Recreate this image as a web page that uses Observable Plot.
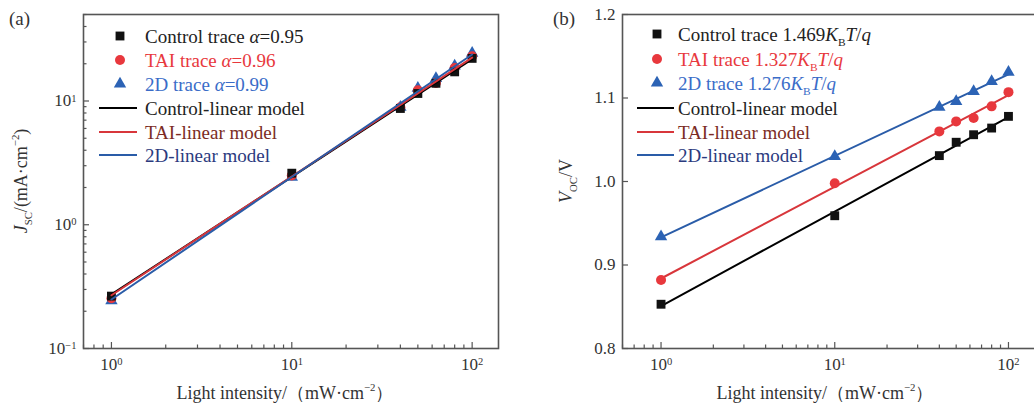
<!DOCTYPE html>
<html>
<head>
<meta charset="utf-8">
<script src="https://cdn.jsdelivr.net/npm/d3@7"></script>
<script src="https://cdn.jsdelivr.net/npm/@observablehq/plot@0.6"></script>
<style>
  html, body { margin: 0; padding: 0; background: #fff; overflow: hidden; }
  #wrap { position: relative; width: 1034px; height: 409px; overflow: hidden; }
  #wrap svg { position: absolute; top: 0; }
</style>
</head>
<body>
<div id="wrap"></div>
<script>
// Light intensities (mW·cm⁻²)
const intensity = [1, 10, 40, 50, 63, 80, 100];

// Short-circuit current density Jsc (mA·cm⁻²)
const jscControl = [0.265, 2.61, 8.7, 11.5, 13.9, 17.2, 22.1];
const jscTAI     = [0.255, 2.5, 8.9, 12.2, 14.0, 18.5, 23.0];
const jsc2D      = [0.243, 2.42, 8.9, 12.7, 15.2, 19.2, 24.4];
// Power-law exponents (Jsc ∝ I^α)
const alphas = [0.95, 0.96, 0.99];

// Open-circuit voltage Voc (V)
const vocControl = [0.853, 0.959, 1.031, 1.047, 1.056, 1.064, 1.078];
const vocTAI     = [0.882, 0.998, 1.060, 1.072, 1.076, 1.090, 1.107];
const voc2D      = [0.934, 1.030, 1.089, 1.096, 1.108, 1.120, 1.131];
// Ideality factors (n·kBT/q)
const idealityFactors = ["1.469", "1.327", "1.276"];

const seriesNames = ["Control", "TAI", "2D"];
const xMajorTicks = [1, 10, 100];
const jscMajorTicks = [0.1, 1, 10];
const vocTicks = [0.8, 0.9, 1.0, 1.1, 1.2];

const serif = "'Liberation Serif', 'Times New Roman', serif";
const frameColor = "#555";
const markerColors = ["#111111", "#e8383d", "#2c63b5"];
const lineColors = ["#000000", "#d8363b", "#2a5ca8"];
const traceTextColors = ["#222222", "#e8383d", "#3a6cc8"];
const modelTextColors = ["#222222", "#7b2b24", "#2b3a7e"];
const symbols = ["square", "circle", "triangle"];
const symbolTypes = {square: d3.symbolSquare, circle: d3.symbolCircle, triangle: d3.symbolTriangle};
const symbolR = [5, 5, 4.6];

const rows = (ys) => intensity.map((x, i) => ({x, y: ys[i]}));
const jscSeries = [jscControl, jscTAI, jsc2D];
const vocSeries = [vocControl, vocTAI, voc2D];
const xLo = d3.min(intensity), xHi = d3.max(intensity);

// Power-law fit with fixed exponent α: log A = mean(log y − α log x)
const jscFits = jscSeries.map((ys, k) => {
  const logA = d3.mean(intensity, (x, i) => Math.log10(ys[i]) - alphas[k] * Math.log10(x));
  return [xLo, xHi].map(x => ({x, y: Math.pow(10, logA) * Math.pow(x, alphas[k])}));
});

// Semi-log least-squares fit: Voc = a + b·log10(I)
const vocFits = vocSeries.map(ys => {
  const lx = intensity.map(Math.log10);
  const mx = d3.mean(lx), my = d3.mean(ys);
  const b = d3.sum(lx, (v, i) => (v - mx) * (ys[i] - my)) / d3.sum(lx, v => (v - mx) ** 2);
  const a = my - b * mx;
  return [xLo, xHi].map(x => ({x, y: a + b * Math.log10(x)}));
});

const minorLog = (domain) => d3.scaleLog().domain(domain).ticks()
  .filter(v => Math.abs(Math.log10(v) - Math.round(Math.log10(v))) > 1e-9);

// Text with italic / subscript / superscript runs
function richText(parent, parts, {x, y, anchor = "start", size = 18, fill = "#222", rotate = 0}) {
  const t = parent.append("text")
    .attr("transform", `translate(${x},${y}) rotate(${rotate})`)
    .attr("text-anchor", anchor)
    .attr("font-family", serif)
    .attr("font-size", size)
    .attr("fill", fill);
  let shift = 0;
  for (const p of parts) {
    const target = p.sub ? 0.28 : p.sup ? -0.42 : 0;
    const ts = t.append("tspan").text(p.t);
    const dy = (target - shift) * size;
    if (dy) ts.attr("dy", dy);
    shift = target;
    if (p.sub || p.sup) ts.attr("font-size", size * 0.6);
    if (p.it) ts.attr("font-style", "italic");
    if (p.fill) ts.attr("fill", p.fill);
  }
  return t;
}

// Turn "10^k" tick labels into a base with a raised exponent
function powerLabels(svg) {
  d3.select(svg).selectAll("text").each(function () {
    const m = /^10\^(.+)$/.exec(this.textContent);
    if (!m) return;
    const sel = d3.select(this);
    sel.text(null);
    sel.append("tspan").text("10");
    sel.append("tspan").attr("dy", "-0.45em").attr("font-size", "0.62em").text(m[1]);
  });
}
const powFormat = d => "10^" + String(Math.round(Math.log10(d))).replace("-", "−");

function legendRow(g, k, kind, {sx, lx1, lx2, tx, cy, parts, color}) {
  if (kind === "trace") {
    g.append("path")
      .attr("transform", `translate(${sx},${cy})`)
      .attr("d", d3.symbol(symbolTypes[symbols[k]], Math.PI * symbolR[k] ** 2)())
      .attr("fill", markerColors[k]);
  } else {
    g.append("line").attr("x1", lx1).attr("x2", lx2).attr("y1", cy).attr("y2", cy)
      .attr("stroke", lineColors[k]).attr("stroke-width", 2);
  }
  richText(g, parts, {x: tx, y: cy + 6.5, size: 19, fill: color});
}

const H = 409, MT = 14, MB = 61;

// ---------- (a) Jsc vs light intensity ----------
const wA = 517, mlA = 83, mrA = 19;
const pwA = wA - mlA - mrA, phA = H - MT - MB;
const xDomA = [0.7, 140], yDomA = [0.1, 50];

const plotA = Plot.plot({
  width: wA, height: H,
  marginLeft: mlA, marginRight: mrA, marginTop: MT, marginBottom: MB,
  style: {fontFamily: serif, fontSize: "17px", color: "#333", background: "transparent"},
  x: {type: "log", domain: xDomA, ticks: xMajorTicks, tickFormat: powFormat, tickSize: 0, tickPadding: 9, label: null},
  y: {type: "log", domain: yDomA, ticks: jscMajorTicks, tickFormat: powFormat, tickSize: 0, tickPadding: 7, label: null},
  marks: [
    Plot.tickX(minorLog(xDomA), {x: d => d, insetTop: phA - 3.5, stroke: frameColor, strokeWidth: 1.2}),
    Plot.tickX(xMajorTicks, {x: d => d, insetTop: phA - 6, stroke: frameColor, strokeWidth: 1.2}),
    Plot.tickY(minorLog(yDomA), {y: d => d, insetRight: pwA - 3.5, stroke: frameColor, strokeWidth: 1.2}),
    Plot.tickY(jscMajorTicks, {y: d => d, insetRight: pwA - 6, stroke: frameColor, strokeWidth: 1.2}),
    ...[2, 1, 0].map(k => Plot.dot(rows(jscSeries[k]), {x: "x", y: "y", symbol: symbols[k], r: symbolR[k], fill: markerColors[k], stroke: "none"})),
    ...[0, 1, 2].map(k => Plot.line(jscFits[k], {x: "x", y: "y", stroke: lineColors[k], strokeWidth: 2})),
    Plot.frame({stroke: frameColor, strokeWidth: 1.6})
  ]
});
plotA.style.left = "0px";
powerLabels(plotA);
{
  const g = d3.select(plotA).append("g").attr("text-anchor", "start");
  g.append("text").attr("x", 9).attr("y", 25).attr("text-anchor", "start")
    .attr("font-family", serif).attr("font-size", 19).attr("fill", "#333").text("(a)");
  const rowY = [36, 60, 84, 108, 132, 155];
  seriesNames.forEach((name, k) => {
    legendRow(g, k, "trace", {sx: 120, tx: 145, cy: rowY[k], color: traceTextColors[k],
      parts: [{t: `${name} trace `}, {t: "α", it: true}, {t: `=${alphas[k].toFixed(2)}`}]});
    legendRow(g, k, "model", {lx1: 99, lx2: 137, tx: 145, cy: rowY[k + 3], color: modelTextColors[k],
      parts: [{t: `${name}-linear model`}]});
  });
  richText(g, [{t: "J", it: true}, {t: "SC", sub: true}, {t: "/(mA·cm"}, {t: "−2", sup: true}, {t: ")"}],
    {x: 27, y: 181, anchor: "middle", size: 18, fill: "#333", rotate: -90});
  richText(g, [{t: "Light intensity/（mW·cm"}, {t: "−2", sup: true}, {t: "）"}],
    {x: 285, y: 399, anchor: "middle", size: 18, fill: "#333"});
}

// ---------- (b) Voc vs light intensity ----------
const offB = 517, wB = 522, mlB = 105, mrB = 3;
const xDomB = [0.6, 145], yDomB = [0.8, 1.2];
const phB = H - MT - MB, pwB = wB - mlB - mrB;

const plotB = Plot.plot({
  width: wB, height: H,
  marginLeft: mlB, marginRight: mrB, marginTop: MT, marginBottom: MB,
  style: {fontFamily: serif, fontSize: "17px", color: "#333", background: "transparent"},
  x: {type: "log", domain: xDomB, ticks: xMajorTicks, tickFormat: powFormat, tickSize: 0, tickPadding: 9, label: null},
  y: {domain: yDomB, ticks: vocTicks, tickFormat: d3.format(".1f"), tickSize: 0, tickPadding: 7, label: null},
  marks: [
    Plot.tickX(minorLog(xDomB), {x: d => d, insetTop: phB - 3.5, stroke: frameColor, strokeWidth: 1.2}),
    Plot.tickX(xMajorTicks, {x: d => d, insetTop: phB - 6, stroke: frameColor, strokeWidth: 1.2}),
    Plot.tickY(vocTicks, {y: d => d, insetRight: pwB - 6, stroke: frameColor, strokeWidth: 1.2}),
    ...[0, 1, 2].map(k => Plot.line(vocFits[k], {x: "x", y: "y", stroke: lineColors[k], strokeWidth: 2})),
    ...[0, 1, 2].map(k => Plot.dot(rows(vocSeries[k]), {x: "x", y: "y", symbol: symbols[k], r: symbolR[k], fill: markerColors[k], stroke: "none"})),
    Plot.frame({stroke: frameColor, strokeWidth: 1.6})
  ]
});
plotB.style.left = offB + "px";
powerLabels(plotB);
{
  const g = d3.select(plotB).append("g").attr("text-anchor", "start");
  g.append("text").attr("x", 36).attr("y", 25).attr("text-anchor", "start")
    .attr("font-family", serif).attr("font-size", 19).attr("fill", "#333").text("(b)");
  const rowY = [34, 59, 83, 108, 132, 155];
  seriesNames.forEach((name, k) => {
    legendRow(g, k, "trace", {sx: 140, tx: 161, cy: rowY[k], color: traceTextColors[k],
      parts: [{t: `${name} trace ${idealityFactors[k]}`}, {t: "K", it: true}, {t: "B", sub: true}, {t: "T", it: true}, {t: "/"}, {t: "q", it: true}]});
    legendRow(g, k, "model", {lx1: 120, lx2: 157, tx: 161, cy: rowY[k + 3], color: modelTextColors[k],
      parts: [{t: `${name}-linear model`}]});
  });
  richText(g, [{t: "V", it: true}, {t: "OC", sub: true}, {t: "/V"}],
    {x: 55, y: 181, anchor: "middle", size: 18, fill: "#333", rotate: -90});
  richText(g, [{t: "Light intensity/（mW·cm"}, {t: "−2", sup: true}, {t: "）"}],
    {x: 308, y: 399, anchor: "middle", size: 18, fill: "#333"});
}

document.getElementById("wrap").append(plotA, plotB);
</script>
</body>
</html>
